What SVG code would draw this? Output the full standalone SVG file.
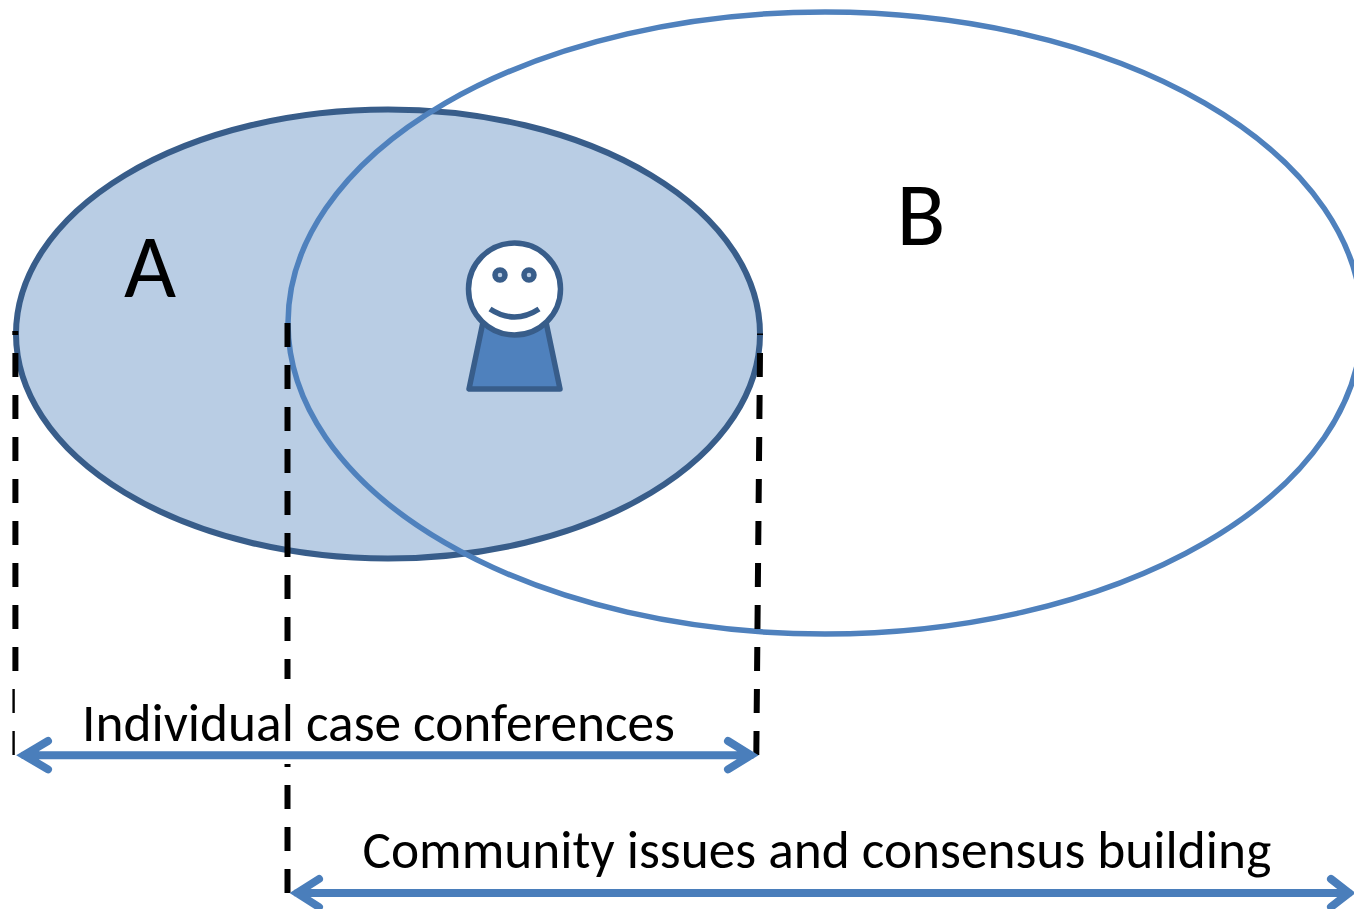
<svg xmlns="http://www.w3.org/2000/svg" width="1354" height="909" viewBox="0 0 1354 909">
<style>
.dash{fill:none;stroke:#000;stroke-width:6;stroke-dasharray:24 18}
.arrow{fill:none;stroke:#4a7ebb;stroke-width:8;stroke-linecap:round;stroke-linejoin:miter}
.t{font-family:"Carlito","Liberation Sans",sans-serif;fill:#000}
.face{stroke:#385d8a;stroke-width:5.500;stroke-linejoin:round}
</style>
<rect width="1354" height="909" fill="#fff"/>
<g id="node-a">
<ellipse cx="388" cy="334" rx="372" ry="224.500" fill="#b9cde4" stroke="#385d8a" stroke-width="6"/>
<text class="t" x="124" y="297" font-size="90">A</text>
</g>
<g id="node-b">
<ellipse cx="825" cy="323" rx="537" ry="311" fill="none" stroke="#4f81bd" stroke-width="5.500"/>
<text class="t" x="896.500" y="245" font-size="90">B</text>
</g>
<g id="person">
<path class="face" d="M483 322L469 389H560L546 322Z" fill="#4f81bd"/>
<circle class="face" cx="514.500" cy="289" r="46" fill="#fff"/>
<circle class="face" cx="500" cy="275" r="5" fill="#b9cde4" stroke-width="5"/>
<circle class="face" cx="529" cy="275" r="5" fill="#b9cde4" stroke-width="5"/>
<path class="face" d="M490 309Q514.500 325 539 309" fill="none" stroke-width="5"/>
</g>
<g id="connectors">
<rect x="12.300" y="331" width="6" height="4" fill="#000"/>
<path class="dash" d="M15.400 353V755"/>
<path class="dash" d="M287.500 323V893"/>
<rect x="757" y="333.500" width="6" height="1.500" fill="#000"/>
<path class="dash" d="M760 353L756.300 755"/>
<rect x="14.800" y="679" width="725" height="85" fill="#fff"/>
<text class="t" x="82" y="740.500" font-size="53.350">Individual case conferences</text>
<path class="arrow" d="M24 755.200H751M48 741L24 755.200L48 769.400M728 741L751 755.200L728 769.400"/>
<text class="t" x="362.500" y="868" font-size="53.350">Community issues and consensus building</text>
<path class="arrow" d="M297 893H1349M319 879L297 893L319 907M1331 879L1349 893L1331 907"/>
</g>
</svg>
